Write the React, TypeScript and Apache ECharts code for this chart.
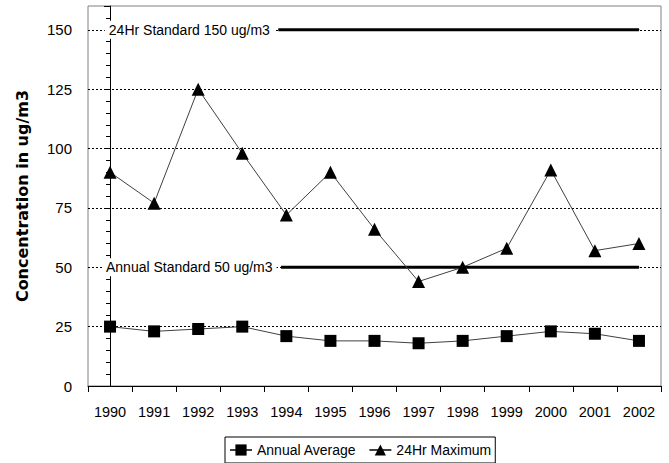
import React, { useEffect, useRef } from "react";
import * as echarts from "echarts";

const years = ["1990", "1991", "1992", "1993", "1994", "1995", "1996", "1997", "1998", "1999", "2000", "2001", "2002"];
const annualAverage = [25, 23, 24, 25, 21, 19, 19, 18, 19, 21, 23, 22, 19];
const maximum24Hr = [90, 77, 125, 98, 72, 90, 66, 44, 50, 58, 91, 57, 60];
const standard24Hr = { label: "24Hr Standard 150 ug/m3", value: 150, from: 3.82, to: 12 };
const standardAnnual = { label: "Annual Standard 50 ug/m3", value: 50, from: 3.88, to: 12 };
const yAxisTitle = "Concentration in ug/m3";

const FONT = "'Liberation Sans', Arial, sans-serif";

function standardSeries(s: { label: string; value: number; from: number; to: number }) {
  return {
    type: "line",
    name: s.label,
    xAxisIndex: 1,
    yAxisIndex: 0,
    symbol: "circle",
    symbolSize: 1,
    itemStyle: { color: "#000" },
    lineStyle: { color: "#000", width: 3 },
    silent: true,
    z: 3,
    data: [
      {
        value: [s.from, s.value],
        label: {
          show: true,
          position: "left",
          distance: 4,
          formatter: s.label,
          color: "#000",
          fontSize: 14,
          fontFamily: FONT,
          backgroundColor: "#fff",
          padding: [2, 4, 2, 4],
        },
      },
      { value: [s.to, s.value] },
    ],
  };
}

export default function App() {
  const ref = useRef<HTMLDivElement>(null);
  useEffect(() => {
    if (!ref.current) return;
    const chart = echarts.init(ref.current, null, { renderer: "svg" });
    chart.setOption({
      animation: false,
      backgroundColor: "#fff",
      textStyle: { fontFamily: FONT },
      grid: {
        left: 88,
        right: 8,
        top: 6,
        bottom: 77,
        show: true,
        borderColor: "#808080",
        borderWidth: 1,
        backgroundColor: "transparent",
      },
      legend: {
        data: ["Annual Average", "24Hr Maximum"],
        left: 225,
        top: 437,
        itemWidth: 22,
        itemHeight: 14,
        itemGap: 12,
        padding: [6, 4, 6, 4],
        borderColor: "#000",
        borderWidth: 1,
        textStyle: { fontSize: 14, color: "#000", fontFamily: FONT },
      },
      xAxis: [
        {
          type: "category",
          data: years,
          boundaryGap: true,
          axisLine: { lineStyle: { color: "#000", width: 1 } },
          axisTick: { show: true, length: 6, lineStyle: { color: "#000" } },
          axisLabel: { color: "#000", fontSize: 14.5, margin: 18, fontFamily: FONT, interval: 0 },
          splitLine: { show: false },
        },
        {
          type: "value",
          min: -0.5,
          max: 12.5,
          show: false,
          splitLine: { show: false },
        },
      ],
      yAxis: {
        type: "value",
        min: 0,
        max: 160,
        interval: 25,
        name: yAxisTitle,
        nameLocation: "middle",
        nameGap: 58,
        nameTextStyle: {
          fontSize: 16,
          fontWeight: "bold",
          color: "#000",
          fontFamily: "'DejaVu Sans', sans-serif",
        },
        axisLine: { show: true, lineStyle: { color: "#000", width: 1 } },
        axisTick: { show: true, length: 6, lineStyle: { color: "#000" } },
        minorTick: { show: true, splitNumber: 5, length: 4, lineStyle: { color: "#000" } },
        axisLabel: {
          color: "#000",
          fontSize: 15,
          margin: 16,
          fontFamily: FONT,
          formatter: (v: number) => (v % 25 === 0 ? String(v) : ""),
        },
        splitLine: {
          show: true,
          showMinLine: false,
          showMaxLine: false,
          lineStyle: { color: "#000", type: [2, 2], width: 1 },
        },
      },
      series: [
        standardSeries(standard24Hr),
        standardSeries(standardAnnual),
        {
          type: "line",
          name: "Annual Average",
          data: annualAverage,
          symbol: "rect",
          symbolSize: 12,
          itemStyle: { color: "#000" },
          lineStyle: { color: "#404040", width: 1 },
          z: 4,
        },
        {
          type: "line",
          name: "24Hr Maximum",
          data: maximum24Hr,
          symbol: "triangle",
          symbolSize: [13, 13],
          itemStyle: { color: "#000" },
          lineStyle: { color: "#404040", width: 1 },
          z: 4,
        },
      ],
    });
    return () => chart.dispose();
  }, []);
  return <div ref={ref} style={{ width: 669, height: 463, position: "absolute", left: 0, top: 0 }} />;
}
